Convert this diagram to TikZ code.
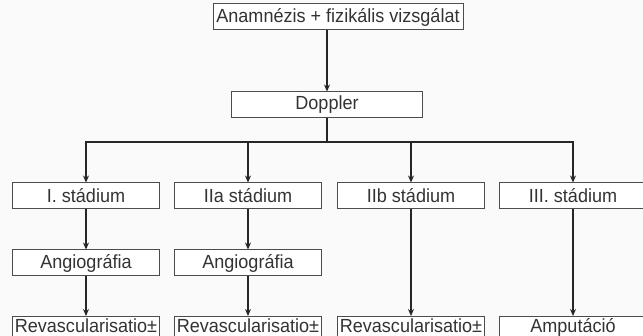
\documentclass[tikz,border=0pt]{standalone}
\usepackage{fontspec}
\setmainfont{Liberation Sans}[FakeStretch=0.95]
\usetikzlibrary{arrows.meta}
\begin{document}
\begin{tikzpicture}[x=1pt,y=-1pt,
  box/.style={draw=black!70, line width=1pt, fill=white, minimum height=26pt, inner sep=0pt, font=\fontsize{19}{19}\selectfont, text=black!80},
  lowbox/.style={box, anchor=north, text height=15pt, text depth=9pt},
  conn/.style={draw=black!85, line width=1.8pt},
  arr/.style={conn, -{Stealth[length=7pt,width=6pt]}}]
\fill[white!98!black] (0,0) rectangle (643,336);
\useasboundingbox (0,0) rectangle (643,336);
\clip (0,0) rectangle (643,336);
\node[box, minimum width=250pt] (top) at (338,17) {Anamnézis + fizikális vizsgálat};
\node[box, minimum width=191pt] (dop) at (327,105) {Doppler};
\node[box, minimum width=147pt] (s1) at (86,196) {I. stádium};
\node[box, minimum width=147pt] (s2) at (248,196) {IIa stádium};
\node[box, minimum width=147pt] (s3) at (411,196) {IIb stádium};
\node[box, minimum width=147pt] (s4) at (573,196) {III. stádium};
\node[box, minimum width=147pt] (a1) at (86,263) {Angiográfia};
\node[box, minimum width=147pt] (a2) at (248,263) {Angiográfia};
\node[lowbox, minimum width=147pt] (r1) at (86,316) {Revascularisatio±};
\node[lowbox, minimum width=147pt] (r2) at (248,316) {Revascularisatio±};
\node[lowbox, minimum width=147pt] (r3) at (411,316) {Revascularisatio±};
\node[lowbox, minimum width=147pt] (r4) at (573,316) {Amputáció};
\coordinate (j) at (327,142);
\draw[arr] (top.south -| dop.north) -- (dop.north);
\draw[conn] (dop.south) -- (j);
\draw[arr] (j) -| (s1.north);
\draw[arr] (j) -| (s2.north);
\draw[arr] (j) -| (s3.north);
\draw[arr] (j) -| (s4.north);
\draw[arr] (s1.south) -- (a1.north);
\draw[arr] (s2.south) -- (a2.north);
\draw[arr] (a1.south) -- (r1.north);
\draw[arr] (a2.south) -- (r2.north);
\draw[arr] (s3.south) -- (r3.north);
\draw[arr] (s4.south) -- (r4.north);
\end{tikzpicture}
\end{document}
